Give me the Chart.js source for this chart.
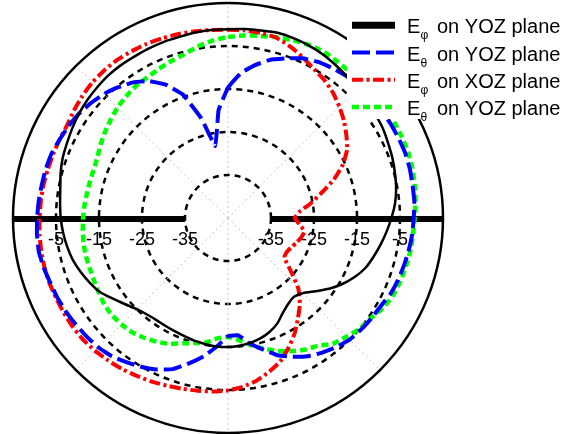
<!DOCTYPE html>
<html>
<head>
<meta charset="utf-8">
<script src="https://cdn.jsdelivr.net/npm/chart.js@4.4.1/dist/chart.umd.min.js"></script>
<style>
  html, body { margin: 0; padding: 0; background: #fff; }
  #wrap { width: 571px; height: 434px; }
</style>
</head>
<body>
<div id="wrap"><canvas id="polarChart" width="571" height="434"></canvas></div>
<script>
// angle in degrees, 0 at top, clockwise
const angles = [
  0, 5, 10, 15, 20, 25, 30, 35, 40, 45, 50, 55,
  60, 65, 70, 75, 80, 85, 90, 95, 100, 105, 110, 115,
  120, 125, 130, 135, 140, 145, 150, 155, 160, 165, 170, 175,
  180, 185, 190, 195, 200, 205, 210, 215, 220, 225, 230, 235,
  240, 245, 250, 255, 260, 265, 270, 275, 280, 285, 290, 295,
  300, 305, 310, 315, 320, 325, 330, 335, 340, 345, 350, 355
];

// E-phi on YOZ plane (dB)
const ephiYoz = [
  -1.1, -0.9, -0.7, -0.4, -0.5, -0.7, -1.0, -1.5, -2.0, -2.4, -2.7, -3.1,
  -3.4, -3.9, -4.3, -4.8, -5.3, -6.0, -7.0, -8.0, -9.0, -10.0, -11.0, -12.5,
  -14.3, -16.3, -18.5, -20.3, -21.1, -20.6, -19.5, -17.9, -16.8, -16.0, -15.5, -15.2,
  -15.0, -15.0, -15.2, -15.4, -15.7, -15.9, -16.0, -16.0, -15.7, -15.0, -13.8, -12.3,
  -10.6, -9.5, -8.5, -7.6, -7.0, -6.5, -6.1, -5.8, -5.4, -4.7, -4.1, -3.7,
  -3.2, -2.7, -2.3, -2.0, -1.7, -1.6, -1.6, -1.5, -1.4, -1.4, -1.2, -1.1
];

// E-theta on YOZ plane (dB)
const ethetaYoz = [
  -14.7, -11.2, -8.9, -6.9, -5.5, -4.0, -3.1, -2.5, -2.0, -1.7, -1.5, -1.4,
  -1.3, -1.2, -1.1, -1.2, -1.4, -1.5, -1.8, -2.0, -2.3, -2.6, -2.9, -3.3,
  -4.0, -4.3, -4.6, -5.0, -5.8, -6.8, -7.9, -9.4, -11.0, -13.3, -15.3, -17.6,
  -17.5, -15.0, -12.3, -10.0, -7.6, -6.1, -5.0, -4.0, -3.0, -2.4, -2.1, -1.8,
  -1.5, -1.2, -1.0, -0.6, -0.3, -0.4, -0.6, -0.8, -1.0, -1.1, -1.3, -1.8,
  -2.2, -2.7, -3.4, -4.2, -5.3, -6.5, -8.2, -10.8, -14.5, -21.0, -28.0, -19.8
];

// E-phi on XOZ plane (dB)
const ephiXoz = [
  -1.2, -1.2, -1.3, -1.6, -2.6, -3.8, -5.0, -5.9, -7.0, -8.4, -9.8, -11.4,
  -13.0, -15.5, -18.8, -22.5, -25.5, -28.3, -29.5, -28.3, -27.0, -27.4, -28.1, -28.8,
  -29.2, -29.0, -26.0, -21.9, -19.0, -16.6, -14.0, -11.7, -9.5, -8.0, -6.6, -5.6,
  -4.9, -4.5, -4.2, -3.9, -3.5, -3.0, -2.6, -2.1, -1.7, -1.3, -1.0, -0.9,
  -0.9, -0.9, -0.8, -0.8, -0.9, -1.0, -1.2, -1.3, -1.4, -1.6, -1.7, -1.8,
  -1.8, -1.3, -0.8, -0.4, -0.2, -0.1, -0.2, -0.3, -0.5, -0.7, -0.9, -1.1
];

// second E-theta on YOZ plane (dB)
const ethetaYoz2 = [
  -2.9, -2.4, -2.0, -1.5, -1.0, -0.6, -0.4, -0.6, -0.8, -0.8, -0.7, -0.5,
  -0.4, -0.4, -0.4, -0.6, -0.9, -1.2, -1.6, -1.8, -1.9, -2.1, -2.3, -2.6,
  -3.3, -4.4, -5.0, -6.0, -6.9, -8.7, -9.6, -10.8, -12.1, -13.6, -15.0, -16.5,
  -17.3, -16.9, -15.6, -14.9, -14.0, -12.7, -11.8, -11.0, -10.3, -10.0, -9.8, -9.9,
  -10.3, -10.6, -10.8, -10.8, -10.9, -11.1, -11.3, -11.5, -11.7, -11.8, -11.8, -11.5,
  -10.8, -10.1, -9.4, -8.7, -8.1, -7.6, -7.3, -6.8, -6.2, -5.6, -4.5, -3.6
];

const radialTicks = [-35, -25, -15, -5];

const seriesNames = [
  ["E", "\u03c6", "on YOZ plane"],
  ["E", "\u03b8", "on YOZ plane"],
  ["E", "\u03c6", "on XOZ plane"],
  ["E", "\u03b8", "on YOZ plane"]
];

const FONT = '"Liberation Sans", Arial, sans-serif';
const LEGEND_LINE_WIDTHS = [7, 4, 4, 4.5];

const polarDecor = {
  id: "polarDecor",
  beforeDraw(chart) {
    const ctx = chart.ctx;
    ctx.save();
    ctx.fillStyle = "#fff";
    ctx.fillRect(0, 0, chart.width, chart.height);
    ctx.restore();
  },
  beforeDatasetsDraw(chart) {
    const r = chart.scales.r;
    const ctx = chart.ctx;
    const inner = r.getDistanceFromCenterForValue(-35);
    const outer = r.getDistanceFromCenterForValue(5);

    // thick horizontal axis
    ctx.save();
    ctx.strokeStyle = "#000";
    ctx.lineWidth = 6;
    ctx.beginPath();
    ctx.moveTo(r.xCenter - outer, r.yCenter + 1);
    ctx.lineTo(r.xCenter - inner, r.yCenter + 1);
    ctx.moveTo(r.xCenter + inner, r.yCenter + 1);
    ctx.lineTo(r.xCenter + outer, r.yCenter + 1);
    ctx.stroke();

    // tick labels below the axis, both sides
    ctx.fillStyle = "#000";
    ctx.font = "18px " + FONT;
    ctx.textAlign = "center";
    ctx.textBaseline = "alphabetic";
    radialTicks.forEach(function (v) {
      const d = r.getDistanceFromCenterForValue(v);
      ctx.fillText(String(v), r.xCenter - d, r.yCenter + 27);
      ctx.fillText(String(v), r.xCenter + d, r.yCenter + 27);
    });
    ctx.restore();
  },
  afterDatasetsDraw(chart) {
    const ctx = chart.ctx;
    ctx.save();
    ctx.fillStyle = "#fff";
    ctx.fillRect(347, 0, 224, 119);

    chart.data.datasets.forEach(function (ds, i) {
      const y = 25.3 + i * 27.2;
      ctx.strokeStyle = ds.borderColor;
      ctx.lineWidth = LEGEND_LINE_WIDTHS[i];
      ctx.setLineDash(ds.borderDash || []);
      ctx.lineDashOffset = 0;
      ctx.beginPath();
      ctx.moveTo(352, y);
      ctx.lineTo(395, y);
      ctx.stroke();

      const base = 33.3 + i * 27.2;
      const name = seriesNames[i];
      ctx.fillStyle = "#000";
      ctx.textAlign = "left";
      ctx.textBaseline = "alphabetic";
      ctx.font = "20px " + FONT;
      ctx.fillText(name[0], 407, base);
      ctx.font = "12px " + FONT;
      ctx.fillText(name[1], 420.5, base + 6);
      ctx.font = "20px " + FONT;
      ctx.fillText(name[2], 437, base);
    });
    ctx.restore();
  }
};

function makeSet(data, color, width, dash, tension) {
  return {
    data: data,
    borderColor: color,
    borderWidth: width,
    borderDash: dash,
    backgroundColor: "transparent",
    fill: false,
    tension: tension,
    pointRadius: 0,
    pointHoverRadius: 0,
    pointHitRadius: 0,
  };
}

new Chart(document.getElementById("polarChart"), {
  type: "radar",
  data: {
    labels: angles,
    datasets: [
      makeSet(ephiYoz, "#000000", 2.5, [], 0.2),
      makeSet(ethetaYoz, "#0000ff", 4, [18, 6], 0.08),
      makeSet(ephiXoz, "#ff0000", 4, [11, 3.5, 3, 3.5], 0.15),
      makeSet(ethetaYoz2, "#00ff00", 4.5, [7, 4], 0.2),
    ],
  },
  options: {
    responsive: false,
    animation: false,
    layout: {
      padding: { left: 13, right: 128, top: 3, bottom: 1 },
    },
    scales: {
      r: {
        min: -45,
        max: 5,
        beginAtZero: false,
        ticks: {
          stepSize: 10,
          display: false,
        },
        pointLabels: { display: false },
        grid: {
          circular: true,
          color: "#000",
          lineWidth: function (ctx) {
            return ctx.index === 0 ? 0 : 2.5;
          },
        },
        border: {
          dash: function (ctx) {
            return ctx.tick && ctx.tick.value === 5 ? [] : [6, 5];
          },
        },
        angleLines: {
          display: true,
          color: function (ctx) {
            const i = ctx.index;
            return i % 9 === 0 && i !== 18 && i !== 54 ? "#c8c8c8" : "rgba(0,0,0,0)";
          },
          lineWidth: 1,
          borderDash: [2, 3],
        },
      },
    },
    plugins: {
      legend: { display: false },
      tooltip: { enabled: false },
    },
  },
  plugins: [polarDecor],
});
</script>
</body>
</html>
